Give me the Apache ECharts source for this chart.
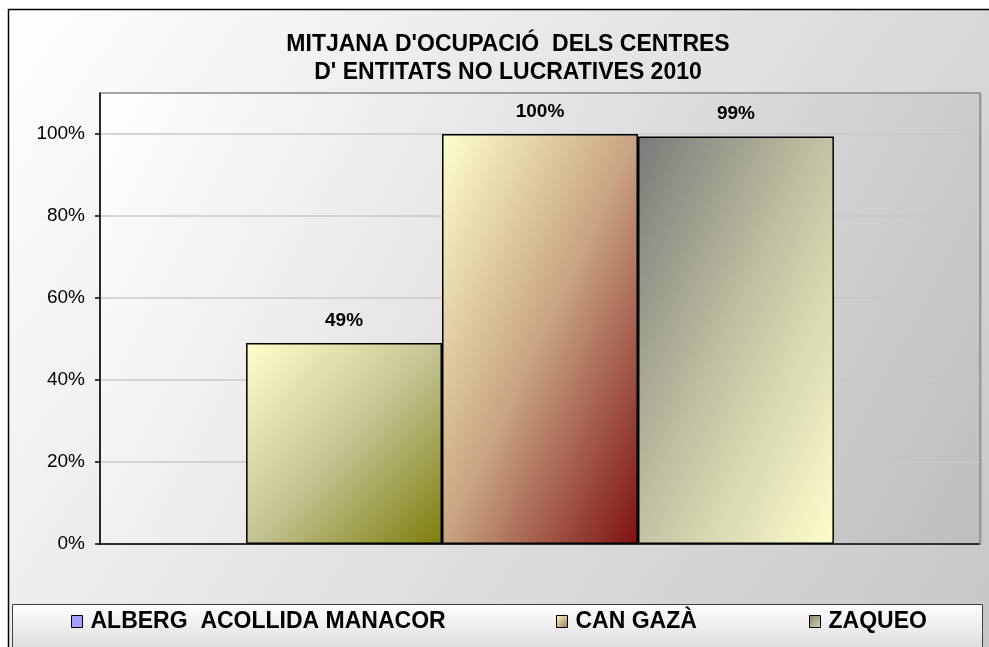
<!DOCTYPE html>
<html>
<head>
<meta charset="utf-8">
<script src="https://cdn.jsdelivr.net/npm/echarts@6/dist/echarts.min.js"></script>
<style>html,body{margin:0;padding:0;background:#fff}#c{width:989px;height:647px}</style>
</head>
<body>
<div id="c"></div>
<script>
const titleLines = ["MITJANA D'OCUPACIÓ  DELS CENTRES", "D' ENTITATS NO LUCRATIVES 2010"];
const categories = ['2010'];
const seriesNames = ['ALBERG  ACOLLIDA MANACOR', 'CAN GAZÀ', 'ZAQUEO'];
const albergValues = [0.49];
const canGazaValues = [1.00];
const zaqueoValues = [0.994];
const yTickValues = [0, 0.2, 0.4, 0.6, 0.8, 1.0];

const G = echarts.graphic.LinearGradient;
// diagonal gradients whose iso-lines run parallel to the bar's anti-diagonal
const barFills = [
  new G(0, 0, 1.025, 0.975, [{offset: 0, color: '#ffffcc'}, {offset: 0.5, color: '#c4c494'}, {offset: 1, color: '#7e7e0c'}]),
  new G(0, 0, 1.63, 0.37, [{offset: 0, color: '#ffffcc'}, {offset: 0.5, color: '#c8a482'}, {offset: 1, color: '#7e1010'}]),
  new G(0, 0, 1.63, 0.37, [{offset: 0, color: '#7a7a7a'}, {offset: 0.5, color: '#c4c4a4'}, {offset: 1, color: '#ffffcc'}])
];
const legendFills = [
  '#a0a0ff',
  new G(0, 0, 1, 1, [{offset: 0, color: '#ffffd0'}, {offset: 1, color: '#a07050'}]),
  new G(0, 0, 1, 1, [{offset: 0, color: '#808070'}, {offset: 1, color: '#d8d8b0'}])
];
const seriesData = [albergValues, canGazaValues, zaqueoValues];
const legendLefts = [66, 551, 804];

const chart = echarts.init(document.getElementById('c'), null, {renderer: 'canvas'});
const fontFam = 'Arial, "Liberation Sans", sans-serif';

const option = {
  animation: false,
  backgroundColor: '#ffffff',
  title: {
    text: titleLines.map(t => '{t|' + t + '}').join('\n'),
    left: 283,
    top: 31,
    padding: 0,
    textAlign: 'left',
    textStyle: {
      rich: {t: {width: 450, align: 'center', fontFamily: fontFam, fontWeight: 'bold', fontSize: 23, lineHeight: 28, color: '#000'}}
    }
  },
  graphic: [
    {type: 'rect', z: -10, shape: {x: 8.5, y: 9.5, width: 1000, height: 700},
     style: {fill: new G(0, 0, 1, 1, [{offset: 0, color: '#ffffff'}, {offset: 1, color: '#c4c4c4'}]), stroke: '#000', lineWidth: 1.5}},
    {type: 'rect', z: -5, shape: {x: 12.5, y: 604.5, width: 970, height: 60},
     style: {fill: new G(0, 0, 0, 1, [{offset: 0, color: '#ffffff'}, {offset: 1, color: '#d0d0d0'}]), stroke: '#404040', lineWidth: 1}},
    {type: 'line', z: 10, shape: {x1: 980.5, y1: 94, x2: 980.5, y2: 545},
     style: {stroke: '#999999', lineWidth: 2}}
  ],
  legend: seriesNames.map((n, i) => ({
    data: [{name: n, itemStyle: {color: legendFills[i], borderColor: '#000', borderWidth: 1}}],
    left: legendLefts[i],
    top: 605,
    itemWidth: 11,
    itemHeight: 12,
    itemGap: 0,
    icon: 'rect',
    textStyle: {fontFamily: fontFam, fontWeight: 'bold', fontSize: 23, color: '#000', padding: [0, 0, 0, 3]}
  })),
  grid: {
    left: 100, top: 93, right: 9, bottom: 103,
    show: true,
    backgroundColor: new G(0, 0, 1, 1, [{offset: 0, color: '#ffffff'}, {offset: 1, color: '#bebebe'}]),
    borderColor: '#888888', borderWidth: 1.5
  },
  xAxis: {
    type: 'category',
    data: categories,
    axisLine: {lineStyle: {color: '#000', width: 1.5}},
    axisTick: {show: false},
    axisLabel: {show: false}
  },
  yAxis: {
    type: 'value',
    min: 0, max: 1.1, interval: 0.2,
    axisLine: {show: true, lineStyle: {color: '#000', width: 1.5}},
    axisTick: {show: true, length: 5, lineStyle: {color: '#000', width: 1.5}, customValues: yTickValues},
    axisLabel: {customValues: yTickValues, formatter: v => Math.round(v * 100) + '%', fontFamily: fontFam, fontSize: 19, color: '#000', margin: 15},
    splitLine: {lineStyle: {color: '#c8c8c8', width: 1.5}}
  },
  series: seriesNames.map((n, i) => ({
    name: n,
    type: 'bar',
    data: seriesData[i],
    barGap: '0%',
    barCategoryGap: '33.2%',
    itemStyle: {color: barFills[i], borderColor: '#000', borderWidth: 1.5},
    label: {show: true, position: 'top', distance: 13, formatter: p => Math.round(p.value * 100) + '%',
      fontFamily: fontFam, fontWeight: 'bold', fontSize: 19, color: '#000'}
  }))
};
chart.setOption(option);
</script>
</body>
</html>
